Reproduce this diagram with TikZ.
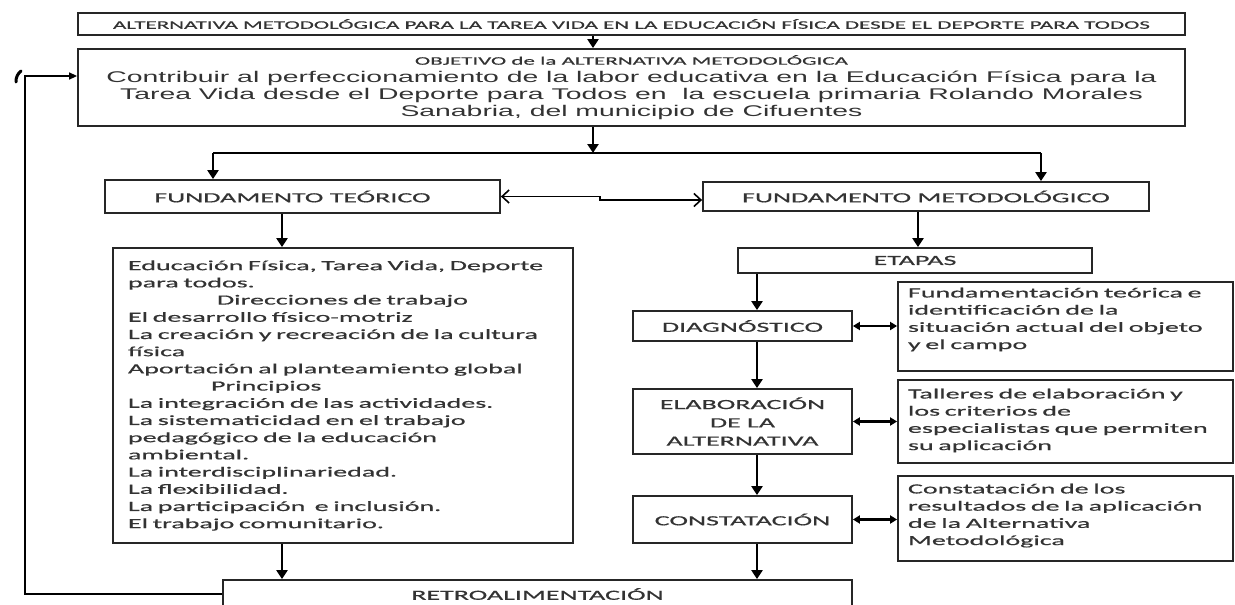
\documentclass[tikz,border=0pt]{standalone}
\usepackage{fontspec}
\setmainfont{Carlito}[FakeStretch=2.0, FakeBold=0.6]
\newfontfamily\objfont{Liberation Sans}[FakeStretch=1.83]
\usetikzlibrary{arrows.meta}

\tikzset{
  box/.style={draw=black!85, line width=1.8pt, inner sep=0pt, align=center,
    text=black!80, font=\fontsize{14}{17.2}\selectfont},
  notebox/.style={box, align=left, text width=315pt, inner xsep=10pt},
  link/.style={draw=black, line width=1.5pt},
  flow/.style={draw=black, line width=2.6pt, -{Triangle[length=9pt,width=11pt]}},
  both/.style={draw=black, line width=2.2pt, {Triangle[length=7pt,width=8pt]}-{Triangle[length=7pt,width=8pt]}},
  open/.style={draw=black, line width=1.6pt, {Straight Barb[length=7pt,width=13pt]}-{Straight Barb[length=7pt,width=13pt]}}
}

\begin{document}
\begin{tikzpicture}[x=1pt, y=-1pt]
  \useasboundingbox (0,0) rectangle (1235,605);
  % upper part
  \node[box, minimum width=1107pt, minimum height=22pt, font=\fontsize{11.5}{13}\selectfont]
    (title) at (631.5,24) {ALTERNATIVA METODOLÓGICA PARA LA TAREA VIDA EN LA EDUCACIÓN FÍSICA DESDE EL DEPORTE PARA TODOS};
  \node[box, minimum width=1107pt, minimum height=77pt, font=\fontsize{15.5}{17}\objfont]
    (obj) at (631.5,87.5) {{\rmfamily\fontsize{11.5}{13}\selectfont OBJETIVO de la ALTERNATIVA METODOLÓGICA}\\[1pt]
    Contribuir al perfeccionamiento de la labor educativa en la Educación Física para la\\
    Tarea Vida desde el Deporte para Todos en\ \ la escuela primaria Rolando Morales\\
    Sanabria, del municipio de Cifuentes};

  \coordinate (spine) at (593,153);
  \coordinate (splitL) at (213,153);
  \coordinate (splitR) at (1041,153);
  \coordinate (step) at (600,200);
  \coordinate (lcol) at (282,0);
  \coordinate (mcol) at (918,0);
  \coordinate (rcol) at (757,0);
  \coordinate (fb) at (25,76);

  \node[box, minimum width=395pt, minimum height=33pt] (ft) at (302.5,196.5) {FUNDAMENTO TEÓRICO\hspace*{20pt}};
  \node[box, minimum width=446pt, minimum height=29pt] (fm) at (926,196.5) {FUNDAMENTO METODOLÓGICO};
  \node[box, minimum width=354pt, minimum height=25pt] (etapas) at (915,260.5) {ETAPAS};

  % left column
  \node[box, align=left, text width=430pt, inner xsep=15pt, minimum height=295pt] (lbox) at (343,395.5) {%
    Educación Física, Tarea Vida, Deporte\\
    para todos.\\
    \hspace*{89pt}Direcciones de trabajo\\
    El desarrollo físico-motriz\\
    La creación y recreación de la cultura\\
    física\\
    Aportación al planteamiento global\\
    \hspace*{83pt}Principios\\
    La integración de las actividades.\\
    La sistematicidad en el trabajo\\
    pedagógico de la educación\\
    ambiental.\\
    La interdisciplinariedad.\\
    La flexibilidad.\\
    La participación\ \ e inclusión.\\
    El trabajo comunitario.};

  % stages
  \node[box, minimum width=219pt, minimum height=30pt] (diag) at (742.5,326) {DIAGNÓSTICO};
  \node[box, minimum width=219pt, minimum height=65pt, font=\fontsize{14}{18.3}\selectfont] (elab) at (742.5,421.5) {ELABORACIÓN\\DE LA\\ALTERNATIVA};
  \node[box, minimum width=219pt, minimum height=47pt] (const) at (742.5,519.5) {CONSTATACIÓN};
  \node[box, minimum width=629pt, minimum height=28pt] (retro) at (537.5,594) {RETROALIMENTACIÓN};

  \node[notebox, minimum height=89pt] (note1) at (1065.5,326.5) {Fundamentación teórica e\\identificación de la\\situación actual del objeto\\y el campo\\[-1pt]\mbox{}};
  \node[notebox, minimum height=83pt] (note2) at (1065.5,421.5) {Talleres de elaboración y\\los criterios de\\especialistas que permiten\\su aplicación\\[-13pt]\mbox{}};
  \node[notebox, minimum height=85pt] (note3) at (1065.5,518.5) {Constatación de los\\resultados de la aplicación\\de la Alternativa\\Metodológica\\[-9pt]\mbox{}};

  % connectors
  \draw[flow] (title.south -| spine) -- (obj.north -| spine);
  \draw[flow] (obj.south -| spine) -- (spine);
  \draw[link] (splitL) -- (splitR);
  \draw[flow] (splitL) -- (splitL |- ft.north);
  \draw[flow] (splitR) -- (splitR |- fm.north);
  \draw[open] (ft.east) -| (step) -- (step -| fm.west);
  \draw[flow] (ft.south -| lcol) -- (lbox.north -| lcol);
  \draw[flow] (lbox.south -| lcol) -- (retro.north -| lcol);
  \draw[flow] (fm.south -| mcol) -- (etapas.north -| mcol);
  \draw[flow] (etapas.south -| rcol) -- (diag.north -| rcol);
  \draw[flow] (diag.south -| rcol) -- (elab.north -| rcol);
  \draw[flow] (elab.south -| rcol) -- (const.north -| rcol);
  \draw[flow] (const.south -| rcol) -- (retro.north -| rcol);
  \draw[both] (diag.east) -- (diag.east -| note1.west);
  \draw[both] (elab.east) -- (elab.east -| note2.west);
  \draw[both] (const.east) -- (const.east -| note3.west);
  % feedback
  \draw[link, -{Triangle[length=8pt,width=7pt]}] (retro.west) -| (fb) -- (fb -| obj.west);
  \draw[line width=3pt, line cap=round] (16,82) to[bend left=25] (21,71);
\end{tikzpicture}
\end{document}
